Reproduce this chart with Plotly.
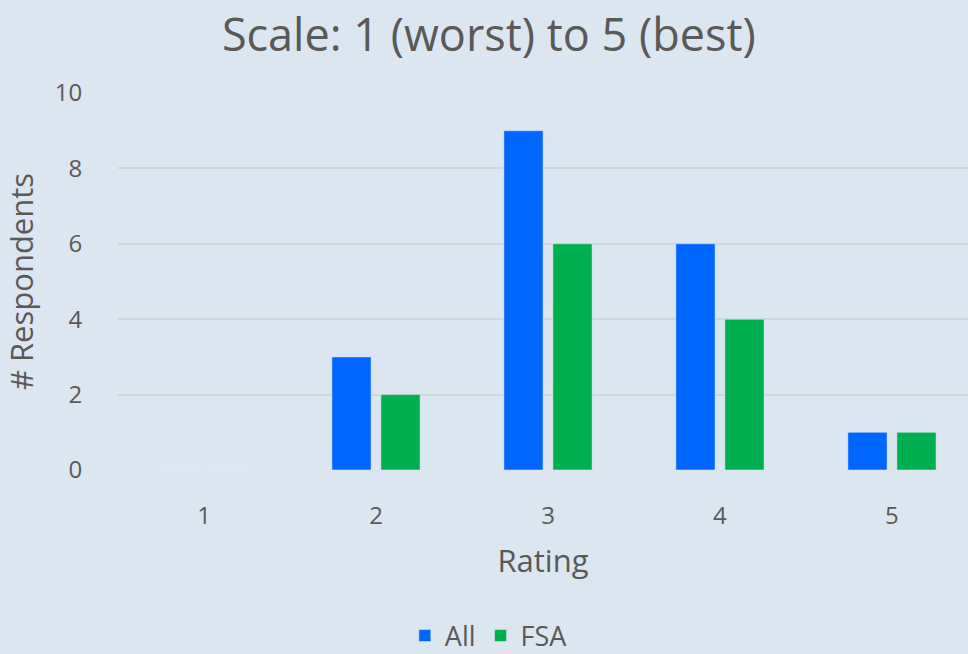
import plotly.graph_objects as go

categories = ["1", "2", "3", "4", "5"]
all_vals = [0, 3, 9, 6, 1]
fsa_vals = [0, 2, 6, 4, 1]
y_ticks = [0, 2, 4, 6, 8, 10]

FONT = "Open Sans"
TXT = "#595959"

fig = go.Figure()
fig.add_trace(go.Bar(name="All", x=[1, 2, 3, 4, 5], y=all_vals, marker_color="#0066FF"))
fig.add_trace(go.Bar(name="FSA", x=[1, 2, 3, 4, 5], y=fsa_vals, marker_color="#00B050"))

fig.update_layout(
    width=968, height=654,
    paper_bgcolor="#DCE6F0", plot_bgcolor="#DCE6F0",
    margin=dict(l=118, r=0, t=93, b=184, autoexpand=False),
    barmode="group", bargap=0.43, bargroupgap=0.2,
    font=dict(family=FONT, color=TXT, size=24),
    title=dict(text="Scale: 1 (worst) to 5 (best)", x=0.505, xref="container", xanchor="center",
               y=1 - 35 / 654, yref="container", yanchor="middle",
               font=dict(size=45, color=TXT, family=FONT)),
    xaxis=dict(range=[0.5, 5.442], tickvals=[1, 2, 3, 4, 5], ticktext=categories,
               showgrid=False, zeroline=False, showline=False,
               ticks="outside", ticklen=24, tickcolor="rgba(0,0,0,0)",
               tickfont=dict(size=24, color=TXT),
               title=dict(text="Rating", font=dict(size=31, color=TXT), standoff=20)),
    yaxis=dict(range=[0, 10], tickvals=y_ticks, showgrid=True, gridcolor="#D3D6D9", gridwidth=2,
               zeroline=False, showline=False,
               ticks="outside", ticklen=30, tickcolor="rgba(0,0,0,0)",
               tickfont=dict(size=24, color=TXT),
               title=dict(text="# Respondents", font=dict(size=31, color=TXT), standoff=14)),
    legend=dict(orientation="h", x=0.505, xref="container", xanchor="center",
                y=-(636 - 470) / 377, yref="paper", yanchor="middle",
                font=dict(size=27, color=TXT), traceorder="normal"),
)

fig.write_html("out.html", config={"displayModeBar": False},
               post_script="document.body.style.margin='0';")
